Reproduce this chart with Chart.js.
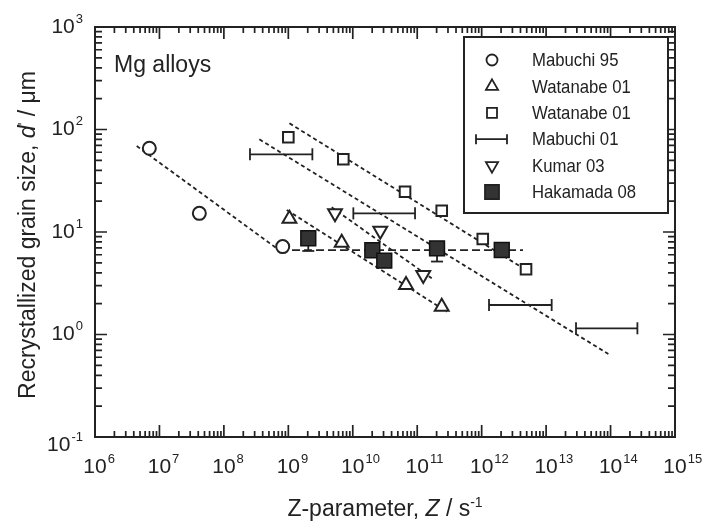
<!DOCTYPE html>
<html>
<head>
<meta charset="utf-8">
<script src="https://cdn.jsdelivr.net/npm/chart.js@4.4.0/dist/chart.umd.min.js"></script>
<style>
  html, body { margin: 0; padding: 0; background: #fff; }
  #wrap { width: 707px; height: 521px; position: relative; }
</style>
</head>
<body>
<div id="wrap"><canvas id="chart"></canvas></div>
<script>
// values: Z in s^-1, d in um
const mabuchi95Z = [6.97e6, 4.16e7, 8.18e8];
const mabuchi95D = [65.6, 15.2, 7.2];

const watanabeTriZ = [1.04e9, 6.73e9, 6.7e10, 2.4e11];
const watanabeTriD = [13.5, 7.87, 3.04, 1.87];

const watanabeSqZ = [1.0e9, 7.13e9, 6.47e10, 2.4e11, 1.04e12, 4.88e12];
const watanabeSqD = [84, 51.2, 24.7, 16.1, 8.55, 4.33];

// Mabuchi 01 is given as Z ranges
const mabuchi01Zmin = [2.54e8, 1.02e10, 1.3e12, 2.91e13];
const mabuchi01Zmax = [2.36e9, 9.25e10, 1.22e13, 2.61e14];
const mabuchi01D = [57.3, 15.2, 1.94, 1.15];

const kumarZ = [5.3e9, 2.67e10, 1.24e11];
const kumarD = [15.2, 10.3, 3.8];

const hakamadaZ = [2.04e9, 2.01e10, 3.08e10, 2.03e11, 2.05e12];
const hakamadaD = [8.69, 6.63, 5.25, 6.93, 6.67];
const hakamadaLow = [6.53, null, null, 5.15, null];

// dashed trend lines, [start, end]
const trendZ = [[4.44e6, 6.6e8], [3.55e8, 9.25e13], [1.04e9, 4.88e12], [9.44e8, 2.87e11], [4.71e9, 1.68e11]];
const trendD = [[69, 6.93], [80.2, 0.645], [115, 4.26], [16.4, 1.67], [17.4, 3.53]];
const hakamadaLineZ = [7.43e8, 4.38e12];
const hakamadaLineD = [6.67, 6.67];

const xTickExp = [6, 7, 8, 9, 10, 11, 12, 13, 14, 15];
const yTickExp = [-1, 0, 1, 2, 3];
const legendLabels = ["Mabuchi 95", "Watanabe 01", "Watanabe 01", "Mabuchi 01", "Kumar 03", "Hakamada 08"];

const ink = "#222";
const fontFam = '"Liberation Sans", Arial, Helvetica, sans-serif';

const pts = (zs, ds) => zs.map((z, i) => ({ x: z, y: ds[i] }));

const datasets = [];

// trend lines
trendZ.forEach((zs, i) => {
    datasets.push({
        type: "line", data: pts(zs, trendD[i]), borderColor: ink, borderWidth: 1.8,
        borderDash: [4, 3], pointRadius: 0, order: 10
    });
});
datasets.push({
    type: "line", data: pts(hakamadaLineZ, hakamadaLineD), borderColor: ink, borderWidth: 1.8,
    borderDash: [8, 4], pointRadius: 0, order: 10
});

// Mabuchi 01 ranges with end caps
mabuchi01D.forEach((d, i) => {
    datasets.push({
        type: "line", data: [{ x: mabuchi01Zmin[i], y: d }, { x: mabuchi01Zmax[i], y: d }],
        borderColor: ink, borderWidth: 1.8, pointStyle: "line", rotation: 90,
        pointRadius: 6, pointBorderColor: ink, pointBorderWidth: 1.8, order: 5
    });
});

// Hakamada lower error bars
hakamadaLow.forEach((low, i) => {
    if (low === null) return;
    datasets.push({
        type: "line", data: [{ x: hakamadaZ[i], y: hakamadaD[i] }, { x: hakamadaZ[i], y: low }],
        borderColor: ink, borderWidth: 1.8, pointStyle: "line", rotation: 0,
        pointRadius: [0, 6], pointBorderColor: ink, pointBorderWidth: 1.8, order: 4
    });
});

const openMark = { backgroundColor: "#fff", borderColor: ink, borderWidth: 2, order: 2 };
datasets.push(Object.assign({ data: pts(mabuchi95Z, mabuchi95D), pointStyle: "circle", pointRadius: 6.5 }, openMark));
datasets.push(Object.assign({ data: pts(watanabeTriZ, watanabeTriD), pointStyle: "triangle", pointRadius: 8 }, openMark));
datasets.push(Object.assign({ data: pts(watanabeSqZ, watanabeSqD), pointStyle: "rect", pointRadius: 7.5 }, openMark));
datasets.push(Object.assign({ data: pts(kumarZ, kumarD), pointStyle: "triangle", rotation: 180, pointRadius: 8 }, openMark));
datasets.push({
    data: pts(hakamadaZ, hakamadaD), pointStyle: "rect", pointRadius: 10.5,
    backgroundColor: "#333", borderColor: "#111", borderWidth: 1.5, order: 1
});

function drawPow(ctx, x, y, exp, mode) {
    const base = "10", sup = String(exp);
    ctx.font = "21px " + fontFam;
    const bw = ctx.measureText(base).width;
    ctx.font = "13px " + fontFam;
    const sw = ctx.measureText(sup).width;
    let bx = mode === "x" ? x - bw / 2 : x - bw - sw - 1;
    ctx.textAlign = "left";
    ctx.textBaseline = "middle";
    ctx.font = "21px " + fontFam;
    ctx.fillText(base, bx, y);
    ctx.font = "13px " + fontFam;
    ctx.fillText(sup, bx + bw + 1, y - 8);
}

// draw pieces of text one after another: [text, font, dy]
function drawRun(ctx, parts, cx, cy) {
    let total = 0;
    parts.forEach(p => { ctx.font = p[1]; total += ctx.measureText(p[0]).width; });
    let x = cx - total / 2;
    ctx.textAlign = "left";
    ctx.textBaseline = "alphabetic";
    parts.forEach(p => {
        ctx.font = p[1];
        ctx.fillText(p[0], x, cy + (p[2] || 0));
        x += ctx.measureText(p[0]).width;
    });
}

function legendMark(ctx, i, x, y) {
    ctx.lineWidth = 1.8;
    ctx.strokeStyle = ink;
    ctx.fillStyle = "#fff";
    ctx.beginPath();
    if (i === 0) {
        ctx.arc(x, y, 5.5, 0, Math.PI * 2);
    } else if (i === 1 || i === 4) {
        const r = 7, s = i === 4 ? -1 : 1;
        ctx.moveTo(x, y - s * r);
        ctx.lineTo(x + r * 0.866, y + s * r / 2);
        ctx.lineTo(x - r * 0.866, y + s * r / 2);
        ctx.closePath();
    } else if (i === 2) {
        ctx.rect(x - 5, y - 5, 10, 10);
    } else if (i === 3) {
        ctx.moveTo(x - 16, y); ctx.lineTo(x + 15, y);
        ctx.moveTo(x - 16, y - 5); ctx.lineTo(x - 16, y + 5);
        ctx.moveTo(x + 15, y - 5); ctx.lineTo(x + 15, y + 5);
        ctx.stroke();
        return;
    } else {
        ctx.fillStyle = "#333";
        ctx.rect(x - 7, y - 7, 14, 14);
    }
    ctx.fill();
    ctx.stroke();
}

const framePlugin = {
    id: "frame",
    afterDraw(chart) {
        const ctx = chart.ctx, a = chart.chartArea;
        const xs = chart.scales.x, ys = chart.scales.y;
        ctx.save();
        ctx.strokeStyle = ink;
        ctx.fillStyle = ink;
        ctx.lineWidth = 1.7;

        // inward ticks on all four sides
        ctx.beginPath();
        xTickExp.forEach((e, k) => {
            for (let m = 1; m <= 9; m++) {
                if (k === xTickExp.length - 1 && m > 1) break;
                const px = xs.getPixelForValue(m * Math.pow(10, e));
                const len = m === 1 ? 12 : 6;
                ctx.moveTo(px, a.bottom); ctx.lineTo(px, a.bottom - len);
                ctx.moveTo(px, a.top); ctx.lineTo(px, a.top + len);
            }
        });
        yTickExp.forEach((e, k) => {
            for (let m = 1; m <= 9; m++) {
                if (k === yTickExp.length - 1 && m > 1) break;
                const py = ys.getPixelForValue(m * Math.pow(10, e));
                const len = m === 1 ? 12 : 7;
                ctx.moveTo(a.left, py); ctx.lineTo(a.left + len, py);
                ctx.moveTo(a.right, py); ctx.lineTo(a.right - len, py);
            }
        });
        ctx.stroke();

        ctx.lineWidth = 2;
        ctx.strokeRect(a.left, a.top, a.right - a.left, a.bottom - a.top);

        // tick labels
        xTickExp.forEach(e => drawPow(ctx, xs.getPixelForValue(Math.pow(10, e)), a.bottom + 30, e, "x"));
        yTickExp.forEach(e => {
            const py = ys.getPixelForValue(Math.pow(10, e));
            drawPow(ctx, a.left - 12, e === yTickExp[0] ? py + 8 : py, e, "y");
        });

        // axis titles
        const f23 = "23px " + fontFam, i23 = "italic 23px " + fontFam, s14 = "14px " + fontFam;
        drawRun(ctx, [["Z-parameter, ", f23], ["Z", i23], [" / s", f23], ["-1", s14, -9]], 385, 516);
        ctx.save();
        ctx.translate(35, 235);
        ctx.rotate(-Math.PI / 2);
        drawRun(ctx, [["Recrystallized grain size, ", f23], ["d", i23], ["'", s14, -7], [" / \u03bcm", f23]], 0, 0);
        ctx.restore();

        // in-plot label
        ctx.font = "23px " + fontFam;
        ctx.textAlign = "left";
        ctx.textBaseline = "alphabetic";
        ctx.fillText("Mg alloys", 114, 72);

        // legend box
        const lx = 464, ly = 37, lw = 204, lh = 176;
        ctx.fillStyle = "#fff";
        ctx.fillRect(lx, ly, lw, lh);
        ctx.lineWidth = 2;
        ctx.strokeRect(lx, ly, lw, lh);
        legendLabels.forEach((t, i) => {
            const cy = 60 + i * 26.4;
            legendMark(ctx, i, 492, cy);
            ctx.save();
            ctx.fillStyle = ink;
            ctx.font = "19px " + fontFam;
            ctx.textBaseline = "middle";
            ctx.translate(532, cy + 1);
            ctx.scale(0.88, 1);
            ctx.fillText(t, 0, 0);
            ctx.restore();
        });
        ctx.restore();
    }
};

new Chart(document.getElementById("chart"), {
    type: "scatter",
    data: { datasets: datasets },
    options: {
        responsive: true,
        maintainAspectRatio: false,
        animation: false,
        layout: { padding: { left: 95, right: 32, top: 27, bottom: 84 } },
        plugins: { legend: { display: false }, tooltip: { enabled: false } },
        scales: {
            x: { type: "logarithmic", min: 1e6, max: 1e15, display: false },
            y: { type: "logarithmic", min: 0.1, max: 1000, display: false }
        }
    },
    plugins: [framePlugin]
});
</script>
</body>
</html>
